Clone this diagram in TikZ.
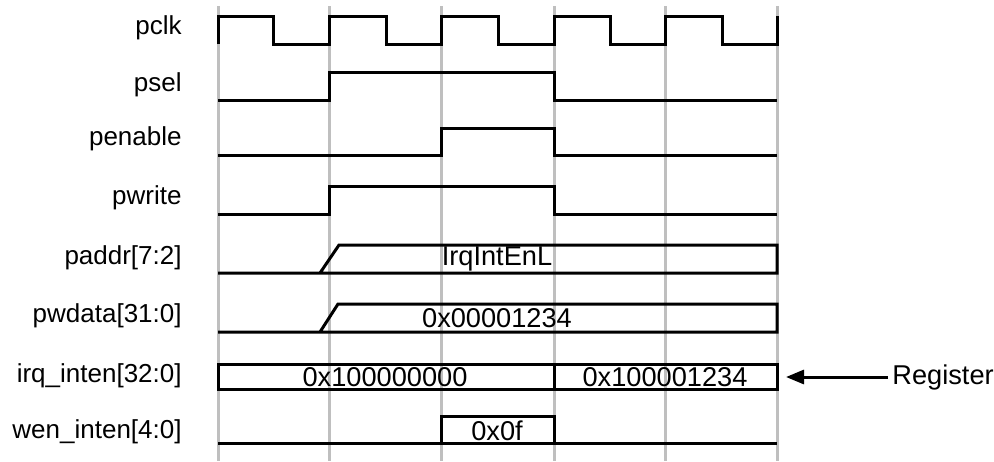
\documentclass[tikz,border=0pt]{standalone}
\usepackage{fontspec}
\setmainfont{Liberation Sans}
\usetikzlibrary{arrows.meta}
\begin{document}
\begin{tikzpicture}[x=0.5pt,y=-0.5pt,
  sig/.style={line width=1.5pt, line join=miter},
  gridline/.style={line width=1.5pt, draw=black!25},
  lbl/.style={anchor=east, inner sep=0pt, font=\fontsize{13}{15}\selectfont},
  val/.style={inner sep=0pt, font=\fontsize{13.6}{15}\selectfont}]
\useasboundingbox (0,0) rectangle (994,461);
% grid
\foreach \x in {218,329,441,554,665,777} \draw[gridline] (\x,6) -- (\x,461);
% labels
\node[lbl] (lpclk) at (182,28) {pclk};
\node[lbl] (lpsel) at (182,85) {psel};
\node[lbl] (lpen) at (182,139) {penable};
\node[lbl] (lpwr) at (182,198) {pwrite};
\node[lbl] (lpaddr) at (182,258) {paddr[7:2]};
\node[lbl] (lpwd) at (182,316) {pwdata[31:0]};
\node[lbl] (lirq) at (182,376) {irq\_inten[32:0]};
\node[lbl] (lwen) at (182,432) {wen\_inten[4:0]};
% pclk
\draw[sig] (218,44) -- (218,16) -- (273,16) -- (273,44) -- (329,44) -- (329,16) -- (386,16) -- (386,44)
  -- (441,44) -- (441,16) -- (498,16) -- (498,44) -- (554,44) -- (554,16) -- (610,16) -- (610,44)
  -- (665,44) -- (665,16) -- (722,16) -- (722,44) -- (777,44) -- (777,16);
% psel
\draw[sig] (218,100) -- (329,100) -- (329,72) -- (554,72) -- (554,100) -- (777,100);
% penable
\draw[sig] (218,155) -- (441,155) -- (441,128) -- (554,128) -- (554,155) -- (777,155);
% pwrite
\draw[sig] (218,214) -- (329,214) -- (329,186) -- (554,186) -- (554,214) -- (777,214);
% paddr
\draw[sig] (218,273) -- (777,273) -- (777,245) -- (339,245) -- (320,273);
\node[val] (vaddr) at (497,259) {IrqIntEnL};
% pwdata
\draw[sig] (218,332) -- (777,332) -- (777,304) -- (338,304) -- (320,332);
\node[val] (vwd) at (497,318) {0x00001234};
% irq_inten
\draw[sig] (218,364) rectangle (777,389);
\draw[sig] (554,364) -- (554,389);
\node[val] (virq1) at (385,377) {0x100000000};
\node[val] (virq2) at (665,377) {0x100001234};
% wen_inten
\draw[sig] (218,443) -- (777,443);
\draw[sig] (441,443) -- (441,416) -- (554,416) -- (554,443);
\node[val] (vwen) at (497,431) {0x0f};
% register arrow
\node[val, anchor=west] (reg) at (892,377) {Register};
\coordinate (irqtip) at (786,377);
\draw[line width=1.5pt, shorten <=2pt, -{Triangle[length=9pt,width=7pt]}] (reg.west) -- (irqtip);
\end{tikzpicture}
\end{document}
